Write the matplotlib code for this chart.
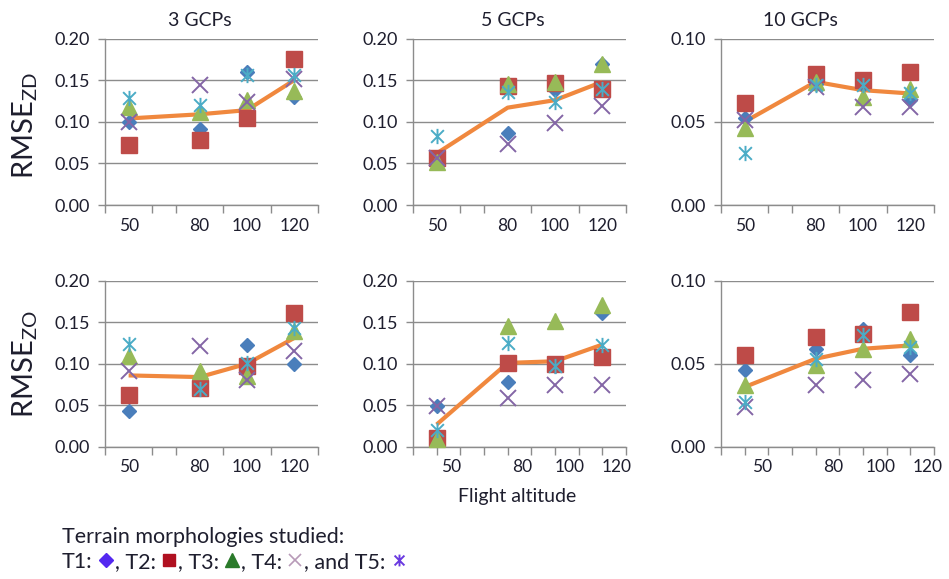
import matplotlib
matplotlib.use("Agg")
import matplotlib.pyplot as plt
from matplotlib.path import Path
from matplotlib.lines import Line2D
from matplotlib.offsetbox import TextArea, DrawingArea, HPacker, AnchoredOffsetbox

plt.rcParams['font.family'] = ['Lato', 'DejaVu Sans']

altitudes = [50, 80, 100, 120]
panel_titles = ["3 GCPs", "5 GCPs", "10 GCPs"]
row_labels = ["RMSE$_{\\mathregular{ZD}}$", "RMSE$_{\\mathregular{ZO}}$"]
terrains = ["T1", "T2", "T3", "T4", "T5"]

# RMSE per terrain (T1..T5) and the overall trend, one list per panel
zd_3gcp = [[0.100, 0.091, 0.160, 0.130],
           [0.072, 0.078, 0.104, 0.176],
           [0.118, 0.112, 0.126, 0.137],
           [0.100, 0.144, 0.124, 0.152],
           [0.128, 0.120, 0.156, 0.156]]
zd_3gcp_trend = [0.104, 0.109, 0.114, 0.150]

zd_5gcp = [[0.056, 0.086, 0.138, 0.170],
           [0.057, 0.143, 0.147, 0.139],
           [0.052, 0.146, 0.148, 0.169],
           [0.056, 0.073, 0.098, 0.119],
           [0.083, 0.136, 0.124, 0.140]]
zd_5gcp_trend = [0.062, 0.117, 0.126, 0.148]

zd_10gcp = [[0.052, 0.073, 0.072, 0.063],
            [0.061, 0.079, 0.075, 0.080],
            [0.046, 0.074, 0.065, 0.070],
            [0.051, 0.071, 0.059, 0.059],
            [0.031, 0.072, 0.072, 0.067]]
zd_10gcp_trend = [0.050, 0.074, 0.069, 0.067]

zo_3gcp = [[0.043, 0.070, 0.123, 0.100],
           [0.062, 0.071, 0.097, 0.161],
           [0.109, 0.091, 0.085, 0.139],
           [0.091, 0.121, 0.081, 0.115],
           [0.124, 0.070, 0.101, 0.143]]
zo_3gcp_trend = [0.086, 0.084, 0.100, 0.131]

zo_5gcp = [[0.049, 0.078, 0.097, 0.161],
           [0.011, 0.101, 0.100, 0.108],
           [0.009, 0.145, 0.151, 0.171],
           [0.049, 0.059, 0.075, 0.075],
           [0.020, 0.125, 0.097, 0.122]]
zo_5gcp_trend = [0.027, 0.101, 0.103, 0.123]

zo_10gcp = [[0.046, 0.059, 0.071, 0.055],
            [0.055, 0.066, 0.068, 0.081],
            [0.037, 0.049, 0.059, 0.065],
            [0.024, 0.037, 0.040, 0.044],
            [0.027, 0.053, 0.067, 0.060]]
zo_10gcp_trend = [0.036, 0.053, 0.059, 0.061]

panels = [(zd_3gcp, zd_3gcp_trend), (zd_5gcp, zd_5gcp_trend), (zd_10gcp, zd_10gcp_trend),
          (zo_3gcp, zo_3gcp_trend), (zo_5gcp, zo_5gcp_trend), (zo_10gcp, zo_10gcp_trend)]
y_max = [0.20, 0.20, 0.10, 0.20, 0.20, 0.10]

# asterisk marker: an x with a vertical stroke
asterisk = Path([(-0.5, -0.5), (0.5, 0.5), (-0.5, 0.5), (0.5, -0.5), (0, -0.6), (0, 0.6)],
                [Path.MOVETO, Path.LINETO, Path.MOVETO, Path.LINETO, Path.MOVETO, Path.LINETO])

styles = [dict(marker='D', ms=7, color='#4A7EBB'),
          dict(marker='s', ms=11.5, color='#BE4B48'),
          dict(marker='^', ms=11, color='#97BA58'),
          dict(marker='x', ms=11, color='#8466A6', mew=1.4),
          dict(marker=asterisk, ms=11, color='#4BACC6', mew=1.4)]
trend_color = '#F0883E'
grid_color = '#8C8C8C'
text_color = '#1E1E2E'

fig = plt.figure(figsize=(9.49, 5.79), dpi=100)

lefts = [0.1106, 0.4352, 0.7597]
bottoms = [0.6459, 0.2280]
width, height = 0.2244, 0.2875
label_shift = [0, 0, 0, 0, 6, 7.5]

for i, (series, trend) in enumerate(panels):
    row, col = divmod(i, 3)
    ax = fig.add_axes([lefts[col], bottoms[row], width, height])
    ax.plot(altitudes, trend, color=trend_color, lw=3, zorder=2, solid_capstyle='butt')
    for vals, st in zip(series, styles):
        st = dict(st)
        c = st.pop('color')
        ax.plot(altitudes, vals, ls='none', mfc=c if st['marker'] in ('D', 's', '^') else 'none',
                mec=c, zorder=3, **st)

    ax.set_xlim(40, 130)
    ax.set_ylim(0, y_max[i])
    step = 0.05
    ax.set_yticks([k * step for k in range(int(round(y_max[i] / step)) + 1)])
    ax.yaxis.set_major_formatter(matplotlib.ticker.FormatStrFormatter('%.2f'))
    ax.set_xticks(range(40, 131, 10), minor=True)
    ax.set_xticks([a + label_shift[i] for a in altitudes])
    ax.set_xticklabels([str(a) for a in altitudes])
    ax.tick_params(axis='x', which='major', length=0, pad=9, labelsize=12.5, labelcolor=text_color)
    ax.tick_params(axis='x', which='minor', length=6, width=1, color=grid_color)
    ax.tick_params(axis='y', length=5, width=1, color=grid_color, labelsize=13,
                   labelcolor=text_color, pad=6)
    ax.grid(axis='y', color=grid_color, lw=1)
    ax.set_axisbelow(True)
    for s in ('top', 'right'):
        ax.spines[s].set_visible(False)
    for s in ('left', 'bottom'):
        ax.spines[s].set_color(grid_color)
        ax.spines[s].set_linewidth(1)
    for ln in ax.lines:
        ln.set_clip_on(False)

title_x = [0.2107, 0.5406, 0.843]
for t, x in zip(panel_titles, title_x):
    fig.text(x, 0.965, t, ha='center', va='center', fontsize=14, color=text_color)

for lab, y in zip(row_labels, [0.784, 0.371]):
    fig.text(0.026, y, lab, rotation=90, ha='center', va='center', fontsize=21, color=text_color)

fig.text(0.545, 0.142, "Flight altitude", ha='center', va='center', fontsize=14, color=text_color)

# legend text with coloured symbols
tp = dict(fontsize=15.5, color=text_color)
fig.text(0.065, 0.073, "Terrain morphologies studied:", ha='left', va='center', **tp)

legend_marks = [dict(marker='D', ms=7.5, mfc='#5428F0', mec='#5428F0'),
                dict(marker='s', ms=9, mfc='#B01020', mec='#B01020'),
                dict(marker='^', ms=10, mfc='#2A7A2A', mec='#2A7A2A'),
                dict(marker='x', ms=9, mec='#B89AB8', mew=1.2),
                dict(marker=asterisk, ms=8.5, mfc='none', mec='#6A3AE0', mew=1.4)]
separators = ["T1:", ", T2:", ", T3:", ", T4:", ", and T5:"]
children = []
for sep_text, mk in zip(separators, legend_marks):
    children.append(TextArea(sep_text, textprops=tp))
    da = DrawingArea(16, 12, 0, 0)
    da.add_artist(Line2D([9.5], [5.5], ls='none', **mk))
    children.append(da)
row2 = HPacker(children=children, align='baseline', pad=0, sep=0)
box = AnchoredOffsetbox(loc='lower left', child=row2, pad=0, borderpad=0, frameon=False,
                        bbox_to_anchor=(0.065, 0.012), bbox_transform=fig.transFigure)
fig.add_artist(box)

fig.savefig("out.png", dpi=100)
